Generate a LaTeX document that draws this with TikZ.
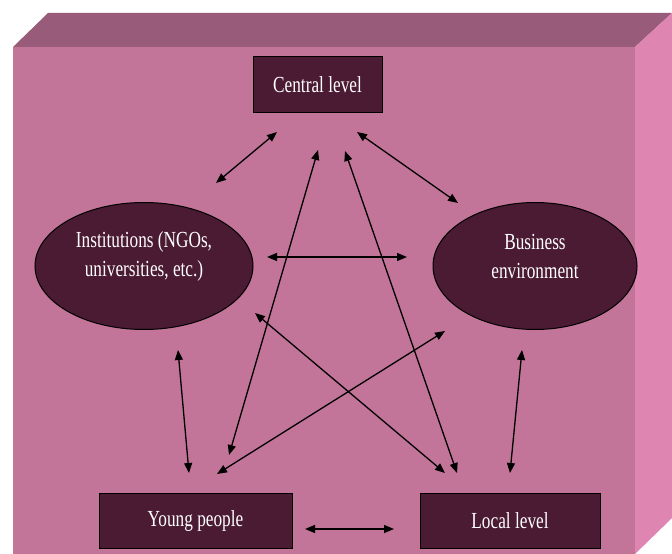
\documentclass[tikz,border=0pt]{standalone}
\usepackage{fontspec}
\setmainfont{Liberation Serif}[FakeStretch=0.75]
\usetikzlibrary{arrows.meta,shapes.geometric}
\definecolor{frontc}{RGB}{195,116,153}
\definecolor{topc}{RGB}{152,92,122}
\definecolor{sidec}{RGB}{223,133,178}
\definecolor{nodec}{RGB}{75,26,51}
\begin{document}
\begin{tikzpicture}[x=1bp,y=-1bp,
  every node/.style={font=\fontsize{23bp}{29bp}\selectfont, text=white},
  rbox/.style={draw=black, line width=1bp, fill=nodec, rectangle, inner sep=0pt},
  ell/.style={draw=black, line width=1bp, fill=nodec, ellipse, inner sep=0pt, minimum width=218bp, minimum height=127bp},
  txt/.style={align=center, text=white, font=\fontsize{23bp}{29bp}\selectfont},
  dbl/.style={line width=1.3bp, {Triangle[length=10bp,width=8bp]}-{Triangle[length=10bp,width=8bp]}}]
\useasboundingbox (0,0) rectangle (672,554);
% 3D box
\fill[frontc] (13,47) -- (635,47) -- (635,554) -- (13,554) -- cycle;
\fill[topc] (13,47) -- (48,13) -- (672,13) -- (635,47) -- cycle;
\fill[sidec] (635,47) -- (672,13) -- (672,518) -- (635,554) -- cycle;
% nodes
\node[rbox, minimum width=129bp, minimum height=56bp] (central) at (317.5,85) {Central level};
\node[ell, label={[txt, yshift=10bp]center:Institutions (NGOs,\\universities, etc.)}] (inst) at (144,266) {};
\node[ell, minimum width=204bp, label={[txt, yshift=10bp]center:Business\\environment}] (bus) at (535,266) {};
\node[rbox, minimum width=193bp, minimum height=55bp] (young) at (195.5,520.5) {Young people};
\node[rbox, minimum width=180bp, minimum height=55bp] (local) at (510,520.5) {Local level};
% connector end points
\coordinate (ci1) at (277,132); \coordinate (ci2) at (216,183);
\coordinate (cb1) at (357,132); \coordinate (cb2) at (458,203);
\coordinate (ib1) at (267,257); \coordinate (ib2) at (407,257);
\coordinate (cy1) at (318,150); \coordinate (cy2) at (229,455);
\coordinate (cl1) at (345,151); \coordinate (cl2) at (457,473);
\coordinate (il1) at (255,313); \coordinate (il2) at (445,473);
\coordinate (by1) at (445,331); \coordinate (by2) at (217,474);
\coordinate (iy1) at (178,350); \coordinate (iy2) at (189,473);
\coordinate (bl1) at (522,350); \coordinate (bl2) at (510,473);
\coordinate (yl1) at (305,529); \coordinate (yl2) at (394,529);
\draw[dbl] (ci1) -- (ci2);
\draw[dbl] (cb1) -- (cb2);
\draw[dbl] (ib1) -- (ib2);
\draw[dbl] (cy1) -- (cy2);
\draw[dbl] (cl1) -- (cl2);
\draw[dbl] (il1) -- (il2);
\draw[dbl] (by1) -- (by2);
\draw[dbl] (iy1) -- (iy2);
\draw[dbl] (bl1) -- (bl2);
\draw[dbl] (yl1) -- (yl2);
\end{tikzpicture}
\end{document}
